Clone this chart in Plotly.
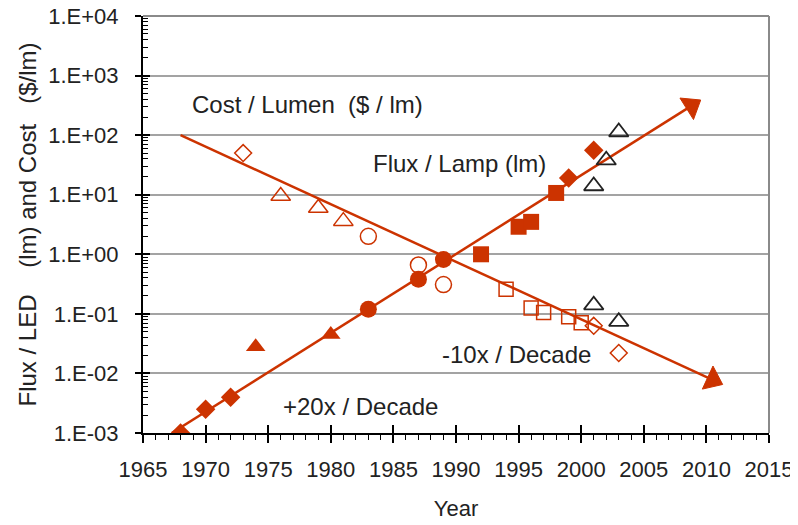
import plotly.graph_objects as go

RED = "#cc3300"
DARK = "#222222"

# ---- data ----
flux_diamond_x = [1968, 1970, 1972, 1999, 2001]
flux_diamond_y = [1.0e-3, 2.5e-3, 4.0e-3, 19, 56]
flux_triangle_x = [1974, 1980]
flux_triangle_y = [0.028, 0.045]
flux_circle_x = [1983, 1987, 1989]
flux_circle_y = [0.12, 0.38, 0.82]
flux_square_x = [1992, 1995, 1996, 1998]
flux_square_y = [1.0, 2.9, 3.5, 10.7]

cost_diamond_x = [1973, 2001, 2003]
cost_diamond_y = [50, 0.063, 0.022]
cost_triangle_x = [1976, 1979, 1981]
cost_triangle_y = [9.5, 6.0, 3.6]
cost_circle_x = [1983, 1987, 1989]
cost_circle_y = [2.0, 0.66, 0.31]
cost_square_x = [1994, 1996, 1997, 1999, 2000]
cost_square_y = [0.26, 0.125, 0.105, 0.089, 0.071]

lamp_triangle_x = [2001, 2002, 2003, 2001, 2003]
lamp_triangle_y = [14, 38, 113, 0.14, 0.074]

flux_fit_x = [1967.3, 2008.8]
flux_fit_y = [1.0e-3, 310]
cost_fit_x = [1968, 2010.5]
cost_fit_y = [100, 0.0078]

y_tickvals = [1e-3, 1e-2, 1e-1, 1e0, 1e1, 1e2, 1e3, 1e4]
y_ticktext = ["1.E-03", "1.E-02", "1.E-01", "1.E+00", "1.E+01", "1.E+02", "1.E+03", "1.E+04"]
y_minor = [m * 10 ** e for e in range(-3, 4) for m in range(2, 10)]

NB = "\u00a0"
labels = [
    ("Cost / Lumen" + NB * 2 + "($ / lm)", 1978.1, 2.52),
    ("Flux / Lamp (lm)", 1990.3, 1.53),
    ("-10x / Decade", 1994.8, -1.69),
    ("+20x / Decade", 1982.4, -2.56),
]
y_title = "Flux / LED" + NB * 4 + "(lm) and Cost" + NB * 3 + "($/lm)"

FONT = "Liberation Sans, Arial, sans-serif"
FS = 22
FA = 24

fig = go.Figure()

# fit lines with arrow heads
for fx, fy in [(flux_fit_x, flux_fit_y), (cost_fit_x, cost_fit_y)]:
    fig.add_trace(go.Scatter(
        x=fx, y=fy, mode="lines+markers",
        line=dict(color=RED, width=2.5),
        marker=dict(symbol="triangle-up", size=[0, 22], color=RED, opacity=1,
                    angleref="previous", line=dict(color=RED, width=1)),
        hoverinfo="skip"))

def pts(x, y, symbol, size, color, open_=False, lw=1.5):
    if open_:
        m = dict(symbol=symbol + "-open", size=size, color=color, line=dict(color=color, width=lw))
    else:
        m = dict(symbol=symbol, size=size, color=color, line=dict(width=0))
    fig.add_trace(go.Scatter(x=x, y=y, mode="markers", marker=m))

pts(flux_diamond_x, flux_diamond_y, "diamond", 15, RED)
pts(flux_triangle_x, flux_triangle_y, "triangle-up", 17, RED)
pts(flux_circle_x, flux_circle_y, "circle", 17, RED)
pts(flux_square_x, flux_square_y, "square", 16, RED)

pts(cost_diamond_x, cost_diamond_y, "diamond", 13, RED, True)
pts(cost_triangle_x, cost_triangle_y, "triangle-up", 17, RED, True)
pts(cost_circle_x, cost_circle_y, "circle", 16, RED, True)
pts(cost_square_x, cost_square_y, "square", 14, RED, True)
pts(lamp_triangle_x, lamp_triangle_y, "triangle-up", 17, DARK, True, 1.8)

# invisible trace to carry the overlay axes (for crossing ticks)
fig.add_trace(go.Scatter(x=[1990], y=[1], xaxis="x2", yaxis="y2", mode="markers",
                         marker=dict(opacity=0), hoverinfo="skip"))

for text, xv, yv in labels:
    fig.add_annotation(x=xv, y=yv, text=text, showarrow=False,
                       font=dict(size=FA, color=DARK, family=FONT),
                       xanchor="center", yanchor="middle")

fig.update_layout(
    width=798, height=525,
    margin=dict(l=135, r=37, t=8, b=100, autoexpand=False),
    paper_bgcolor="white", plot_bgcolor="white",
    showlegend=False,
    font=dict(family=FONT, size=FS, color=DARK),
    xaxis=dict(range=[1965, 2015], tick0=1965, dtick=5, ticks="outside", ticklen=8,
               tickwidth=1.5, tickcolor="black", showline=True, linecolor="black",
               linewidth=2, showgrid=False, zeroline=False, automargin=False,
               ticklabeloverflow="allow",
               tickfont=dict(size=FS, color=DARK), ticklabelstandoff=8,
               minor=dict(tick0=1965, dtick=1, ticks="outside", ticklen=5, tickwidth=1.2,
                          tickcolor="black", showgrid=False),
               title=dict(text="Year", font=dict(size=FS, color=DARK), standoff=19)),
    yaxis=dict(type="log", range=[-3, 4], tickvals=y_tickvals, ticktext=y_ticktext,
               ticks="outside", ticklen=6, tickwidth=1.5, tickcolor="black",
               showline=True, linecolor="black", linewidth=2, automargin=False,
               ticklabeloverflow="allow",
               showgrid=True, gridcolor="#a3a3a3", gridwidth=2, zeroline=False,
               tickfont=dict(size=FS, color=DARK), ticklabelstandoff=12,
               minor=dict(tickmode="array", tickvals=y_minor, ticks="inside", ticklen=5,
                          tickwidth=1, tickcolor="black", showgrid=False),
               title=dict(text=y_title, font=dict(size=FA, color=DARK), standoff=5)),
    xaxis2=dict(overlaying="x", anchor="y2", side="bottom", range=[1965, 2015],
                tick0=1965, dtick=5, ticks="inside", ticklen=8, tickwidth=1.5,
                tickcolor="black", showticklabels=False, showgrid=False, automargin=False,
                showline=False, zeroline=False),
    yaxis2=dict(overlaying="y", anchor="x2", side="left", type="log", range=[-3, 4],
                tickvals=y_tickvals, ticks="inside", ticklen=7, tickwidth=1.5,
                tickcolor="black", showticklabels=False, showgrid=False, automargin=False,
                showline=False, zeroline=False),
)

# gray top and right frame
fig.add_shape(type="line", xref="paper", yref="paper", x0=0, x1=1, y0=1, y1=1,
              line=dict(color="#8a8a8a", width=2))
fig.add_shape(type="line", xref="paper", yref="paper", x0=1, x1=1, y0=0, y1=1,
              line=dict(color="#8a8a8a", width=2))

fig.write_html("out.html")
